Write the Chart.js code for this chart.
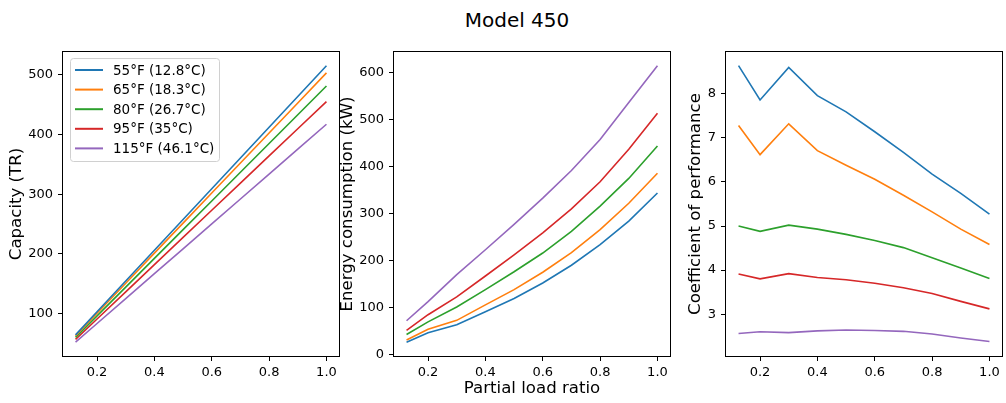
<!DOCTYPE html>
<html>
<head>
<meta charset="utf-8">
<script src="https://cdn.jsdelivr.net/npm/chart.js@4/dist/chart.umd.min.js"></script>
<style>
  body { margin: 0; background: #fff; width: 1006px; height: 403px; position: relative; overflow: hidden; }
  .panel { position: absolute; top: 0; height: 403px; }
  #title { position: absolute; left: 14px; width: 1006px; top: 10px; text-align: center;
           font: 20px/20px 'DejaVu Sans', sans-serif; color: #000; }
</style>
</head>
<body>
<div id="title">Model 450</div>
<div class="panel" style="left:0px;width:350px"><canvas id="capChart"></canvas></div>
<div class="panel" style="left:330px;width:350px"><canvas id="energyChart"></canvas></div>
<div class="panel" style="left:680px;width:326px"><canvas id="copChart"></canvas></div>
<script>
// load ratio on the x axis (same for all three panels)
const loadRatio = [0.125, 0.2, 0.3, 0.4, 0.5, 0.6, 0.7, 0.8, 0.9, 1.0];
const seriesLabels = ['55°F (12.8°C)', '65°F (18.3°C)', '80°F (26.7°C)', '95°F (35°C)', '115°F (46.1°C)'];
const seriesColors = ['#1f77b4', '#ff7f0e', '#2ca02c', '#d62728', '#9467bd'];

// capacity (TR)
const cap55 = [64.4, 103, 154.5, 206, 257.5, 309, 360.5, 412, 463.5, 515];
const cap65 = [62.9, 100.6, 150.9, 201.2, 251.5, 301.8, 352.1, 402.4, 452.7, 503];
const cap80 = [60.1, 96.2, 144.3, 192.4, 240.5, 288.6, 336.7, 384.8, 432.9, 481];
const cap95 = [56.9, 91, 136.5, 182, 227.5, 273, 318.5, 364, 409.5, 455];
const cap115 = [52.1, 83.4, 125.1, 166.8, 208.5, 250.2, 291.9, 333.6, 375.3, 417];

// energy consumption (kW)
const kw55 = [26, 46, 63, 91, 119, 152, 190, 234, 284, 344];
const kw65 = [30.5, 53.5, 72.5, 105.5, 138, 175, 217, 266, 322, 386];
const kw80 = [42.3, 69.3, 101, 138, 176, 216, 262, 316, 375, 444];
const kw95 = [51.2, 84.5, 122.5, 167, 212, 259, 310, 368, 437, 514];
const kw115 = [71.6, 112.5, 170, 223, 277, 333, 392, 458, 537, 615];

// coefficient of performance
const cop55 = [8.64, 7.86, 8.60, 7.96, 7.59, 7.14, 6.67, 6.18, 5.74, 5.27];
const cop65 = [7.28, 6.62, 7.32, 6.71, 6.38, 6.06, 5.70, 5.32, 4.93, 4.58];
const cop80 = [5.00, 4.88, 5.02, 4.93, 4.81, 4.67, 4.51, 4.28, 4.05, 3.81];
const cop95 = [3.91, 3.80, 3.92, 3.83, 3.78, 3.70, 3.60, 3.47, 3.29, 3.12];
const cop115 = [2.56, 2.60, 2.58, 2.62, 2.64, 2.63, 2.61, 2.55, 2.46, 2.38];

// tick labels
const xTicks = [0.2, 0.4, 0.6, 0.8, 1.0];
const capTicks = [100, 200, 300, 400, 500];
const kwTicks = [0, 100, 200, 300, 400, 500, 600];
const copTicks = [3, 4, 5, 6, 7, 8];

Chart.defaults.font.family = "'DejaVu Sans', sans-serif";
Chart.defaults.color = '#000';

function buildDatasets(list) {
    return list.map((vals, i) => ({
        label: seriesLabels[i],
        data: vals.map((v, j) => ({ x: loadRatio[j], y: v })),
        borderColor: seriesColors[i],
        backgroundColor: seriesColors[i],
        borderWidth: 1.6,
        pointRadius: 0,
        tension: 0,
        fill: false
    }));
}

// black box round the plot area, like matplotlib spines
const framePlugin = {
    id: 'framePlugin',
    afterDraw: (chart) => {
        const a = chart.chartArea;
        const ctx = chart.ctx;
        ctx.save();
        ctx.strokeStyle = '#000';
        ctx.lineWidth = 1;
        ctx.strokeRect(Math.round(a.left) - 0.5, Math.round(a.top) - 0.5,
            Math.round(a.right - a.left) + 1, Math.round(a.bottom - a.top) + 1);
        ctx.restore();
    }
};

// legend in the upper left corner of the first panel
const insideLegend = {
    id: 'insideLegend',
    afterDraw: (chart) => {
        const a = chart.chartArea;
        const ctx = chart.ctx;
        const x0 = a.left + 7, y0 = a.top + 6, w = 149, h = 103;
        ctx.save();
        ctx.fillStyle = 'rgba(255,255,255,0.8)';
        ctx.strokeStyle = '#d0d0d0';
        ctx.lineWidth = 1;
        ctx.beginPath();
        ctx.roundRect(x0 + 0.5, y0 + 0.5, w, h, 3);
        ctx.fill();
        ctx.stroke();
        ctx.font = "13.5px 'DejaVu Sans'";
        ctx.textBaseline = 'middle';
        chart.data.datasets.forEach((ds, i) => {
            const y = y0 + 12 + i * 19.6;
            ctx.strokeStyle = ds.borderColor;
            ctx.lineWidth = 2;
            ctx.beginPath();
            ctx.moveTo(x0 + 5, y);
            ctx.lineTo(x0 + 33, y);
            ctx.stroke();
            ctx.fillStyle = '#000';
            ctx.fillText(ds.label, x0 + 43, y + 1);
        });
        ctx.restore();
    }
};

function makePanel(id, datasets, opts) {
    const tickFont = { size: 13 };
    return new Chart(document.getElementById(id), {
        type: 'line',
        data: { datasets: datasets },
        options: {
            animation: false,
            responsive: true,
            maintainAspectRatio: false,
            layout: { padding: { left: opts.padLeft, right: opts.padRight, top: 52, bottom: 0 } },
            plugins: { legend: { display: false }, tooltip: { enabled: false } },
            scales: {
                x: {
                    type: 'linear',
                    min: 0.08125,
                    max: 1.04375,
                    afterBuildTicks: (s) => { s.ticks = xTicks.map(v => ({ value: v })); },
                    afterFit: (s) => { s.height = 47; },
                    ticks: { font: tickFont, padding: 4, maxRotation: 0, autoSkip: false,
                             callback: (v) => Number(v).toFixed(1) },
                    grid: { drawOnChartArea: false, drawTicks: true, tickLength: 5, color: '#000' },
                    border: { display: false },
                    title: { display: !!opts.xTitle, text: opts.xTitle || '', font: { size: 16.6 },
                             padding: { top: 0, bottom: 4 } }
                },
                y: {
                    type: 'linear',
                    min: opts.yMin,
                    max: opts.yMax,
                    afterBuildTicks: (s) => { s.ticks = opts.yTicks.map(v => ({ value: v })); },
                    afterFit: (s) => { s.width = opts.yWidth; },
                    ticks: { font: tickFont, padding: 5, autoSkip: false },
                    grid: { drawOnChartArea: false, drawTicks: true, tickLength: 5, color: '#000' },
                    border: { display: false },
                    title: { display: true, text: opts.yTitle, font: { size: 16.6 },
                             padding: { top: 4, bottom: 4 } }
                }
            }
        },
        plugins: [framePlugin].concat(opts.extra || [])
    });
}

makePanel('capChart', buildDatasets([cap55, cap65, cap80, cap95, cap115]), {
    yMin: 29, yMax: 538, yTicks: capTicks, yTitle: 'Capacity (TR)',
    padLeft: 3, padRight: 11, yWidth: 60, extra: [insideLegend]
});
makePanel('energyChart', buildDatasets([kw55, kw65, kw80, kw95, kw115]), {
    yMin: -3.5, yMax: 644.5, yTicks: kwTicks, yTitle: 'Energy consumption (kW)',
    xTitle: 'Partial load ratio', padLeft: 3.5, padRight: 10, yWidth: 60.5
});
makePanel('copChart', buildDatasets([cop55, cop65, cop80, cop95, cop115]), {
    yMin: 2.05, yMax: 8.95, yTicks: copTicks, yTitle: 'Coefficient of performance',
    padLeft: 2, padRight: 4, yWidth: 44
});
</script>
</body>
</html>
